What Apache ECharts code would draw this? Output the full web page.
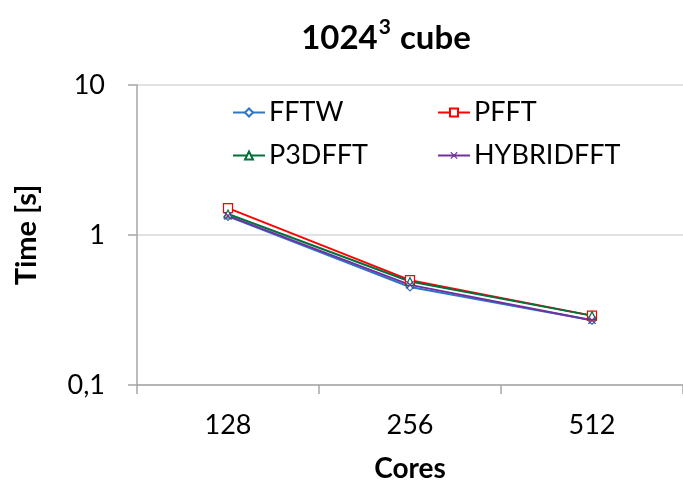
<!DOCTYPE html>
<html><head><meta charset="utf-8">
<script src="https://cdn.jsdelivr.net/npm/echarts@6/dist/echarts.min.js"></script>
<style>html,body{margin:0;padding:0;background:#fff}#c{width:683px;height:490px}</style>
</head><body><div id="c"></div>
<script>
const categories = ['128', '256', '512'];
const fftw = [1.33, 0.45, 0.27];
const pfft = [1.51, 0.50, 0.29];
const p3dfft = [1.38, 0.49, 0.29];
const hybridfft = [1.34, 0.465, 0.27];
const yTicks = [0.1, 1, 10];

const FONT = 'Lato';
const seriesDefs = [
  {name:'FFTW', data:fftw, color:'#2e75c6', symbol:'diamond', size:8},
  {name:'PFFT', data:pfft, color:'#ff0000', symbol:'rect', size:9},
  {name:'P3DFFT', data:p3dfft, color:'#00703c', symbol:'triangle', size:8},
  {name:'HYBRIDFFT', data:hybridfft, color:'#7030a0', symbol:'image://data:image/svg+xml;utf8,' + encodeURIComponent('<svg xmlns="http://www.w3.org/2000/svg" width="10" height="10"><path d="M1,1L9,9M9,1L1,9" stroke="#7030a0" stroke-width="1.5"/></svg>'), size:9}
];

const chart = echarts.init(document.getElementById('c'));
const legendPos = [[232,99],[437,99],[232,142],[437,142]];
chart.setOption({
  animation:false,
  title:{
    text:'{b|1024}{s|3}{b| cube}',
    left:381, top:12, textAlign:'center',
    textStyle:{rich:{
      b:{fontFamily:FONT,fontWeight:'bold',fontSize:33,color:'#000',lineHeight:42},
      s:{fontFamily:FONT,fontWeight:'bold',fontSize:21,color:'#000',verticalAlign:'top',lineHeight:42,padding:[0,1,0,1]}
    }}
  },
  legend: seriesDefs.map((s,i)=>({
    data:[s.name], left:legendPos[i][0], top:legendPos[i][1], padding:0,
    itemWidth:32, itemHeight:10, itemGap:0,
    textStyle:{fontFamily:FONT,fontSize:27,color:'#000',padding:[0,0,0,-1]}
  })),
  grid:{left:137, top:85, width:552, height:300},
  xAxis:{
    type:'category', data:categories, boundaryGap:true,
    axisLine:{lineStyle:{color:'#a6a6a6',width:1.5}},
    axisTick:{show:true,length:9,lineStyle:{color:'#a6a6a6',width:1.5}},
    axisLabel:{fontFamily:FONT,fontSize:27,color:'#000',margin:27},
    name:'Cores', nameLocation:'middle', nameGap:70,
    nameTextStyle:{fontFamily:FONT,fontSize:28,fontWeight:'bold',color:'#000'}
  },
  yAxis:{
    type:'log', logBase:10, min:0.1, max:10,
    axisLine:{show:true,lineStyle:{color:'#a6a6a6',width:1.5}},
    axisTick:{show:true,length:9,lineStyle:{color:'#a6a6a6',width:1.5}},
    splitLine:{show:true,lineStyle:{color:'#d9d9d9',width:1.5}},
    axisLabel:{fontFamily:FONT,fontSize:27,color:'#000',margin:32,
      formatter:v=>String(+v.toPrecision(3)).replace('.',',')},
    name:'Time [s]', nameLocation:'middle', nameGap:96, nameRotate:90,
    nameTextStyle:{fontFamily:FONT,fontSize:29,fontWeight:'bold',color:'#000'}
  },
  series: seriesDefs.map(s=>({
    name:s.name, type:'line', data:s.data,
    symbol:s.symbol, symbolSize:s.size, showSymbol:true,
    itemStyle:{color:'#fff', borderColor:s.color, borderWidth:1.2},
    lineStyle:{color:s.color,width:2},
    emphasis:{disabled:true}
  }))
});
</script></body></html>
